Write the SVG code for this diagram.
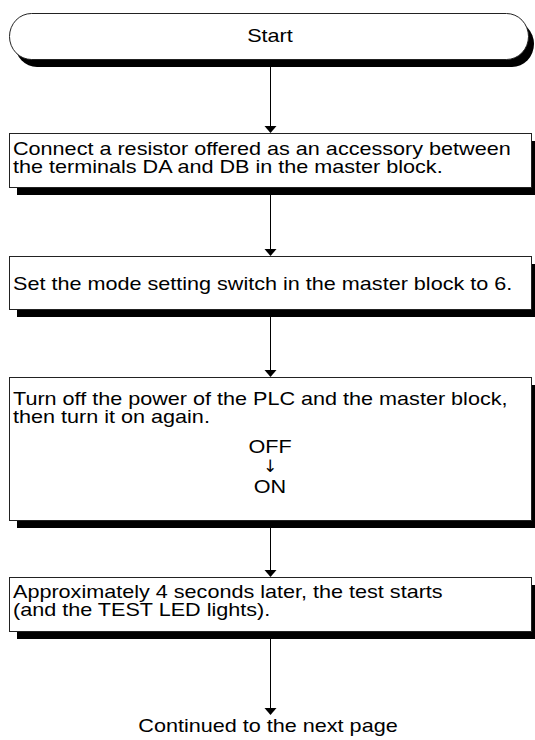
<svg xmlns="http://www.w3.org/2000/svg" width="535" height="740" viewBox="0 0 535 740">
<style>
.box{fill:#fff;stroke:#222;stroke-width:1}
.sh{fill:#000}
.t{font-family:"Liberation Sans",Arial,sans-serif;font-size:18px;fill:#000}
.ar{font-family:"DejaVu Sans",sans-serif;font-size:17px;fill:#000;text-anchor:middle}
.c{text-anchor:middle}
.ln{stroke:#000;stroke-width:1;fill:none}
.hd{fill:#000}
</style>
<rect width="535" height="740" fill="#fff"/>
<g id="connectors">
<line class="ln" x1="270.5" y1="59" x2="270.5" y2="126"/>
<path class="hd" d="M264.5,126 L276.5,126 L270.5,133 Z"/>
<line class="ln" x1="270.5" y1="187" x2="270.5" y2="249"/>
<path class="hd" d="M264.5,249 L276.5,249 L270.5,256 Z"/>
<line class="ln" x1="270.5" y1="309" x2="270.5" y2="370"/>
<path class="hd" d="M264.5,370 L276.5,370 L270.5,377 Z"/>
<line class="ln" x1="270.5" y1="520" x2="270.5" y2="570"/>
<path class="hd" d="M264.5,570 L276.5,570 L270.5,577 Z"/>
<line class="ln" x1="270.5" y1="631" x2="270.5" y2="708"/>
<path class="hd" d="M264.5,708 L276.5,708 L270.5,715 Z"/>
</g>
<g id="start">
<rect class="sh" x="15" y="21" width="519" height="46" rx="22" ry="23"/>
<rect class="box" x="9.5" y="13.5" width="519" height="46" rx="22" ry="23"/>
<text class="t c" transform="translate(270 42) scale(1.2 1)">Start</text>
</g>
<g id="step1">
<rect class="sh" x="17" y="141" width="522" height="54"/>
<rect class="box" x="9.5" y="133.5" width="522" height="54"/>
<text class="t" transform="translate(13 155) scale(1.2 1)">Connect a resistor offered as an accessory between</text>
<text class="t" transform="translate(13 173) scale(1.2 1)">the terminals DA and DB in the master block.</text>
</g>
<g id="step2">
<rect class="sh" x="17" y="264" width="522" height="53"/>
<rect class="box" x="9.5" y="256.5" width="522" height="53"/>
<text class="t" transform="translate(13 290) scale(1.2 1)">Set the mode setting switch in the master block to 6.</text>
</g>
<g id="step3">
<rect class="sh" x="17" y="385" width="522" height="143"/>
<rect class="box" x="9.5" y="377.5" width="522" height="143"/>
<text class="t" transform="translate(13 405) scale(1.2 1)">Turn off the power of the PLC and the master block,</text>
<text class="t" transform="translate(13 423) scale(1.2 1)">then turn it on again.</text>
<text class="t c" transform="translate(270 453) scale(1.2 1)">OFF</text>
<text class="ar" x="270" y="472">↓</text>
<text class="t c" transform="translate(270 493) scale(1.2 1)">ON</text>
</g>
<g id="step4">
<rect class="sh" x="17" y="585" width="522" height="54"/>
<rect class="box" x="9.5" y="577.5" width="522" height="54"/>
<text class="t" transform="translate(13 598) scale(1.2 1)">Approximately 4 seconds later, the test starts</text>
<text class="t" transform="translate(13 616) scale(1.2 1)">(and the TEST LED lights).</text>
</g>
<g id="end">
<text class="t c" transform="translate(268 732) scale(1.2 1)">Continued to the next page</text>
</g>
</svg>
